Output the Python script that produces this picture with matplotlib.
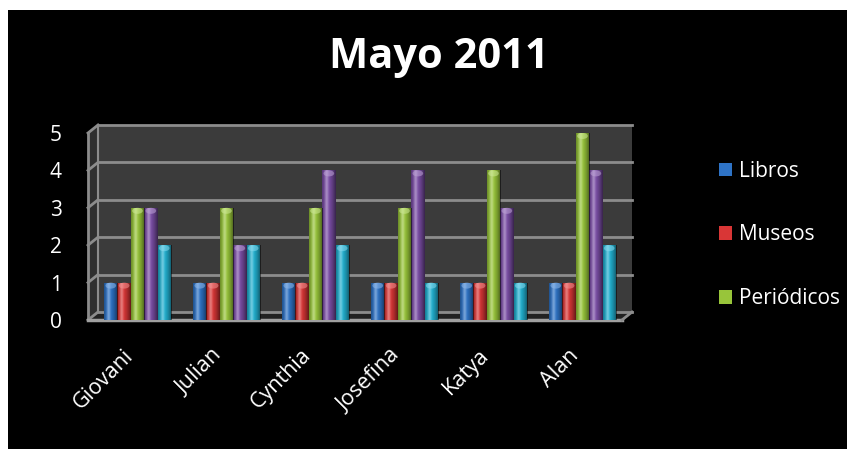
import matplotlib
matplotlib.use('Agg')
import matplotlib.pyplot as plt
import numpy as np
from matplotlib.patches import Polygon, Rectangle, Ellipse
from matplotlib.lines import Line2D
import matplotlib.colors as mcolors

categories = ['Giovani', 'Julian', 'Cynthia', 'Josefina', 'Katya', 'Alan']
libros = [1, 1, 1, 1, 1, 1]
museos = [1, 1, 1, 1, 1, 1]
periodicos = [3, 3, 3, 3, 4, 5]
serie4 = [3, 2, 4, 4, 3, 4]
serie5 = [2, 2, 2, 1, 1, 2]
series_names = ['Libros', 'Museos', 'Periódicos', 'Serie 4', 'Serie 5']
series_vals = [libros, museos, periodicos, serie4, serie5]
colors = ['#2e73c6', '#d93636', '#98c53a', '#7b4ea6', '#22b0d0']
yticks = [0, 1, 2, 3, 4, 5]

plt.rcParams['font.family'] = ['Open Sans', 'DejaVu Sans']

W, H = 856, 451
fig = plt.figure(figsize=(W / 100, H / 100), dpi=100)
fig.patch.set_facecolor('white')
fig.patches.append(Rectangle((8 / W, 2 / H), (847 - 8) / W, (449 - 10) / H,
                             transform=fig.transFigure, facecolor='black',
                             edgecolor='none', zorder=-10))

# front plane of the pseudo-3D plot
L, R, T, B = 88, 622, 133, 320
ax = fig.add_axes([L / W, (H - B) / H, (R - L) / W, (B - T) / H])
ax.patch.set_alpha(0)
for s in ax.spines.values():
    s.set_visible(False)

dx, dy = 10, 8
ox, oy = dx / (R - L), dy / (B - T)
ymax = 5
edge = '#8c8c8c'

# back wall
ax.add_patch(Rectangle((ox, oy), 1, 1, transform=ax.transAxes, facecolor='#3b3b3b',
                       edgecolor='none', zorder=0, clip_on=False))
# side wall
ax.add_patch(Polygon([(0, 0), (0, 1), (ox, 1 + oy), (ox, oy)], closed=True,
                     transform=ax.transAxes, facecolor='#2f2f2f', edgecolor='none',
                     zorder=0.5, clip_on=False))
# floor
ax.add_patch(Polygon([(0, 0), (1, 0), (1 + ox, oy), (ox, oy)], closed=True,
                     transform=ax.transAxes, facecolor='#222222', edgecolor='none',
                     zorder=0.6, clip_on=False))
for yv in yticks:
    f = yv / ymax
    ax.add_line(Line2D([ox, 1 + ox], [f + oy, f + oy], transform=ax.transAxes,
                       color=edge, lw=2, zorder=1, clip_on=False))
    ax.add_line(Line2D([0, ox], [f, f + oy], transform=ax.transAxes,
                       color=edge, lw=2, zorder=1, clip_on=False))
ax.add_line(Line2D([0, 0], [0, 1], transform=ax.transAxes, color=edge, lw=2,
                   zorder=1, clip_on=False))
ax.add_line(Line2D([ox, ox], [oy, 1 + oy], transform=ax.transAxes, color=edge, lw=1.5,
                   zorder=1, clip_on=False))
ax.add_line(Line2D([0, 1], [0, 0], transform=ax.transAxes, color='#a0a0a0', lw=2.5,
                   zorder=1, clip_on=False))
ax.add_line(Line2D([1, 1 + ox], [0, oy], transform=ax.transAxes, color=edge, lw=2,
                   zorder=1, clip_on=False))

x = np.arange(len(categories))
bw = 0.15
shift = 0.056
xlim = (-0.5 - shift, 5.5 - shift)
ylim = (0, ymax)

# cylinder shading profile
n = 64
t = np.linspace(0, 1, n)
shade_a = np.clip(np.abs(t - 0.4) / 0.6, 0, 1) ** 1.6 * 0.55
shade = np.zeros((1, n, 4))
shade[..., 3] = shade_a
hl_a = np.exp(-((t - 0.33) / 0.13) ** 2) * 0.35
hl = np.ones((1, n, 4))
hl[..., 3] = hl_a

cap_h = 6 / ((B - T) / ymax)
containers = []
for i, (vals, c) in enumerate(zip(series_vals, colors)):
    bars = ax.bar(x + (i - 2) * bw, vals, width=bw, color=c, label=series_names[i],
                  zorder=3, edgecolor='none')
    containers.append(bars)
    for rect in bars:
        x0, y0 = rect.get_x(), rect.get_y()
        w, h = rect.get_width(), rect.get_height()
        for img in (shade, hl):
            im = ax.imshow(img, extent=(x0, x0 + w, y0, y0 + h), aspect='auto',
                           interpolation='bilinear', zorder=3.2)
            im.set_clip_path(rect)
        lc = mcolors.to_rgb(c)
        lc = tuple(min(1, v * 0.6 + 0.45) for v in lc)
        ax.add_patch(Ellipse((x0 + w / 2, y0 + h - cap_h / 2), w * 0.8, cap_h,
                             facecolor=lc, edgecolor='none', alpha=0.55, zorder=3.4))

ax.set_xlim(*xlim)
ax.set_ylim(*ylim)
ax.set_yticks(yticks)
ax.set_yticklabels([str(v) for v in yticks])
ax.set_xticks(x)
ax.set_xticklabels(categories, rotation=45, ha='right', va='top')
ax.tick_params(axis='y', length=0, pad=19, labelsize=15, labelcolor='white')
ax.tick_params(axis='x', length=0, pad=18, labelsize=15.5, labelcolor='white')

fig.text(439 / W, (H - 57) / H, 'Mayo 2011', ha='center', va='center', fontsize=30,
         fontweight='bold', color='white')

leg = fig.legend(handles=[containers[0], containers[1], containers[2]],
                 labels=series_names[:3], loc='center left',
                 bbox_to_anchor=(700 / W, (H - 235) / H), frameon=False,
                 fontsize=15, labelcolor='white', labelspacing=2.05,
                 handlelength=0.65, handleheight=0.65, handletextpad=0.3)

fig.savefig('out.png', dpi=100, facecolor='white')
